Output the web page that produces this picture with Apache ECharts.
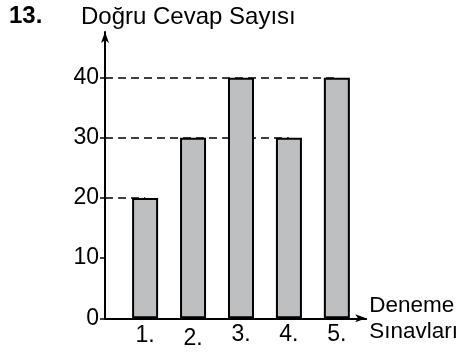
<!DOCTYPE html>
<html>
<head>
<meta charset="utf-8">
<script src="https://cdn.jsdelivr.net/npm/echarts@6/dist/echarts.min.js"></script>
<style>
  html, body { margin: 0; padding: 0; background: #ffffff; }
  #chart { width: 461px; height: 354px; }
</style>
</head>
<body>
<div id="chart"></div>
<script>
// Exam number, its label and the count of correct answers
const examNumbers = [1, 2, 3, 4, 5];
const examLabels = ['1.', '2.', '3.', '4.', '5.'];
const correctAnswers = [20, 30, 40, 30, 40];
const yTickValues = [0, 10, 20, 30, 40];

const questionNumber = '13.';
const yAxisTitle = 'Doğru Cevap Sayısı';
const xAxisTitle = 'Deneme\nSınavları';

const FONT = '"Liberation Sans", Arial, Helvetica, sans-serif';
// axis extents (the arrows sit past the last exam and above the top level)
const X_MIN = 8 / 49;
const X_MAX = 275 / 49;
const Y_MAX = 47.6;

// Dashed guide for each level: from the y axis to the last bar reaching it
const guideLevels = [...new Set(correctAnswers)];
const guideLines = guideLevels.map(function (v) {
  const last = correctAnswers.lastIndexOf(v);
  return [{ coord: [X_MIN, v] }, { coord: [examNumbers[last], v] }];
});

const barData = examNumbers.map(function (n, i) { return [n, correctAnswers[i]]; });

const chart = echarts.init(document.getElementById('chart'), null, { renderer: 'canvas' });

chart.setOption({
  animation: false,
  backgroundColor: '#ffffff',
  textStyle: { fontFamily: FONT },
  title: [
    {
      text: questionNumber,
      left: 9, top: 4, padding: 0,
      textStyle: { fontFamily: FONT, fontSize: 24, fontWeight: 'bold', color: '#000' }
    },
    {
      text: yAxisTitle,
      left: 81, top: 5, padding: 0,
      textStyle: { fontFamily: FONT, fontSize: 24, fontWeight: 'normal', color: '#000' }
    }
  ],
  grid: { left: 105, top: 32, width: 267, height: 286.3, containLabel: false },
  xAxis: {
    type: 'value',
    min: X_MIN,
    max: X_MAX,
    name: xAxisTitle,
    nameLocation: 'end',
    nameGap: 3,
    nameTextStyle: {
      fontFamily: FONT, fontSize: 22.5, color: '#000',
      align: 'left', verticalAlign: 'middle', lineHeight: 26,
      padding: [3, 0, 0, 0]
    },
    axisLine: {
      show: true,
      symbol: ['none', 'arrow'],
      symbolSize: [6, 11],
      lineStyle: { color: '#000', width: 2 }
    },
    axisTick: { show: false },
    splitLine: { show: false },
    axisLabel: {
      customValues: examNumbers,
      margin: 5,
      fontFamily: FONT, fontSize: 23, color: '#000',
      formatter: function (v) {
        const i = examNumbers.indexOf(v);
        if (i < 0) return '';
        if (i === 0) return '{b1|' + examLabels[i] + '}';
        if (i === 1) return '{b2|' + examLabels[i] + '}';
        return '{a|' + examLabels[i] + '}';
      },
      rich: {
        a: { fontFamily: FONT, fontSize: 23, color: '#000' },
        b1: { fontFamily: FONT, fontSize: 23, color: '#000', padding: [1, 0, 0, 0] },
        b2: { fontFamily: FONT, fontSize: 23, color: '#000', padding: [4, 0, 0, 0] }
      }
    }
  },
  yAxis: {
    type: 'value',
    min: 0,
    max: Y_MAX,
    axisLine: {
      show: true,
      symbol: ['none', 'arrow'],
      symbolSize: [6, 11],
      lineStyle: { color: '#000', width: 2 }
    },
    axisTick: {
      show: true,
      customValues: yTickValues,
      length: 5,
      lineStyle: { color: '#000', width: 1.5 }
    },
    splitLine: { show: false },
    axisLabel: {
      customValues: yTickValues,
      margin: 6,
      fontFamily: FONT, fontSize: 23, color: '#000',
      padding: [3, 0, 0, 0]
    }
  },
  series: [
    {
      type: 'bar',
      data: barData,
      barWidth: 26,
      z: 3,
      itemStyle: { color: '#bebfc1', borderColor: '#000', borderWidth: 2 },
      markLine: {
        silent: true,
        z: 1,
        symbol: ['none', 'none'],
        label: { show: false },
        lineStyle: { color: '#000', width: 1.5, type: [8, 5] },
        emphasis: { disabled: true },
        data: guideLines
      }
    }
  ]
});
</script>
</body>
</html>
